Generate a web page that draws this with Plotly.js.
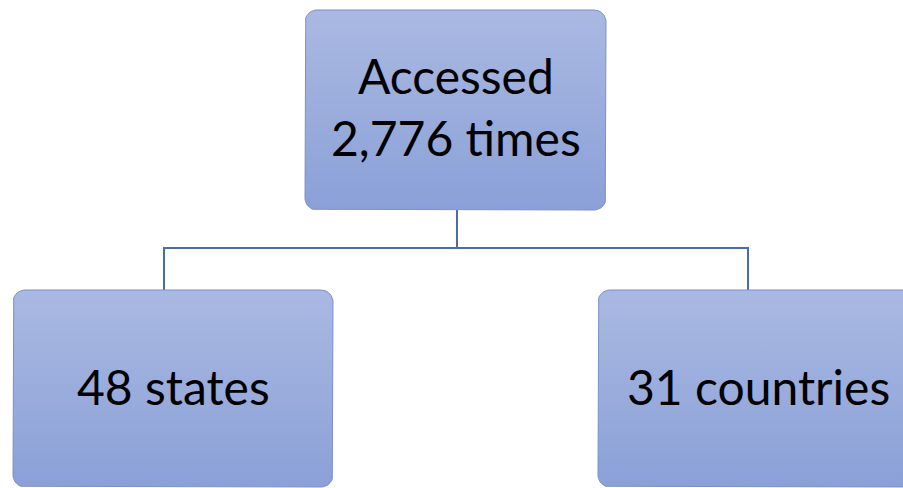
<!DOCTYPE html>
<html><head><meta charset="utf-8">
<script src="https://cdn.plot.ly/plotly-3.0.1.min.js"></script>
<style>html,body{margin:0;padding:0;background:#fff}#chart{width:903px;height:488px}</style>
</head><body><div id="chart"></div>
<script>
// ---- data ----
const nodeLabels = ['Accessed<br>2,776 times', '48 states', '31 countries'];
const nodeParents = [-1, 0, 0];

// ---- layout geometry (pixel-like axis units, y downward) ----
const boxes = [
  {x0: 305, x1: 606, y0: 10, y1: 210},
  {x0: 13, x1: 333, y0: 290, y1: 487},
  {x0: 598, x1: 918, y0: 290, y1: 487}
];
const connX = [457, 164, 748];
const busY = 248;
const R = 12;

function roundRect(b) {
  const xs = [], ys = [];
  const corners = [
    [b.x1 - R, b.y0 + R, -90, 0],
    [b.x1 - R, b.y1 - R, 0, 90],
    [b.x0 + R, b.y1 - R, 90, 180],
    [b.x0 + R, b.y0 + R, 180, 270]
  ];
  corners.forEach(([cx, cy, a0, a1]) => {
    for (let a = a0; a <= a1; a += 10) {
      const r = a * Math.PI / 180;
      xs.push(cx + R * Math.cos(r));
      ys.push(cy + R * Math.sin(r));
    }
  });
  xs.push(xs[0]); ys.push(ys[0]);
  return {xs, ys};
}

const traces = [];
// connectors
const lx = [], ly = [];
nodeParents.forEach((p, i) => {
  if (p < 0) return;
  lx.push(connX[p], connX[p], connX[i], connX[i], null);
  ly.push(boxes[p].y1, busY, busY, boxes[i].y0, null);
});
traces.push({x: lx, y: ly, mode: 'lines', line: {color: '#4a6cac', width: 2}, hoverinfo: 'skip', showlegend: false});

nodeLabels.forEach((lab, i) => {
  const rr = roundRect(boxes[i]);
  traces.push({
    x: rr.xs, y: rr.ys, mode: 'lines', fill: 'toself',
    fillgradient: {type: 'vertical', colorscale: [[0, '#8aa0d7'], [1, '#aab9e2']]},
    line: {color: '#7b90c8', width: 1}, hoverinfo: 'skip', showlegend: false
  });
});

const annotations = nodeLabels.map((lab, i) => ({
  x: (boxes[i].x0 + boxes[i].x1) / 2,
  y: (boxes[i].y0 + boxes[i].y1) / 2 + (i === 0 ? -4 : -2),
  text: lab, showarrow: false,
  font: {family: 'Lato, sans-serif', size: 48, color: '#000'},
  xanchor: 'center', yanchor: 'middle'
}));

const layout = {
  width: 903, height: 488,
  margin: {l: 0, r: 0, t: 0, b: 0},
  paper_bgcolor: '#fff', plot_bgcolor: '#fff',
  xaxis: {range: [0, 903], visible: false, fixedrange: true},
  yaxis: {range: [488, 0], visible: false, fixedrange: true},
  annotations: annotations,
  showlegend: false
};
Plotly.newPlot('chart', traces, layout, {displayModeBar: false, staticPlot: true});
</script></body></html>
